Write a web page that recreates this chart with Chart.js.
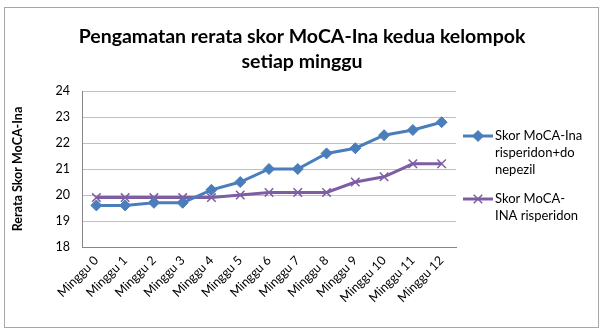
<!DOCTYPE html>
<html>
<head>
<meta charset="utf-8">
<script src="https://cdn.jsdelivr.net/npm/chart.js@4.4.0/dist/chart.umd.min.js"></script>
<style>
  html, body { margin: 0; padding: 0; background: #fff; }
  #wrap { width: 604px; height: 330px; }
</style>
</head>
<body>
<div id="wrap"><canvas id="moca" width="604" height="330"></canvas></div>
<script>
const weeks = ['Minggu 0', 'Minggu 1', 'Minggu 2', 'Minggu 3', 'Minggu 4', 'Minggu 5', 'Minggu 6',
  'Minggu 7', 'Minggu 8', 'Minggu 9', 'Minggu 10', 'Minggu 11', 'Minggu 12'];
const risperidonDonepezil = [19.6, 19.6, 19.7, 19.7, 20.2, 20.5, 21.0, 21.0, 21.6, 21.8, 22.3, 22.5, 22.8];
const risperidonOnly = [19.9, 19.9, 19.9, 19.9, 19.9, 20.0, 20.1, 20.1, 20.1, 20.5, 20.7, 21.2, 21.2];
const legendLines = [['Skor MoCA-Ina', 'risperidon+do', 'nepezil'], ['Skor MoCA-', 'INA risperidon']];
const titleLines = ['Pengamatan rerata skor MoCA-Ina kedua kelompok', 'setiap minggu'];

const FONT = 'Lato, "Open Sans", sans-serif';

// frame, title and the wrapped legend drawn by hand
const decor = {
  id: 'decor',
  beforeDraw(chart) {
    const c = chart.ctx;
    c.save();
    c.fillStyle = '#fff';
    c.fillRect(0, 0, chart.width, chart.height);
    c.strokeStyle = '#a6a6a6';
    c.lineWidth = 1;
    c.strokeRect(4.5, 7.5, 594, 320);
    c.restore();
  },
  afterDraw(chart) {
    const c = chart.ctx;
    c.save();
    c.fillStyle = '#000';
    c.font = 'bold 19.5px ' + FONT;
    c.textAlign = 'center';
    c.textBaseline = 'middle';
    titleLines.forEach((t, i) => c.fillText(t, 302, 37 + i * 25));

    c.font = '13px ' + FONT;
    c.textAlign = 'left';
    const tops = [136, 199];
    chart.data.datasets.forEach((ds, i) => {
      const y = tops[i];
      c.strokeStyle = ds.borderColor;
      c.lineWidth = 3;
      c.beginPath();
      c.moveTo(463, y);
      c.lineTo(493, y);
      c.stroke();
      c.fillStyle = ds.pointBackgroundColor;
      c.strokeStyle = ds.pointBorderColor;
      c.lineWidth = ds.pointBorderWidth;
      Chart.helpers.drawPoint(c, { pointStyle: ds.pointStyle, radius: ds.pointRadius, borderWidth: ds.pointBorderWidth }, 478, y);
      c.fillStyle = '#000';
      legendLines[i].forEach((t, j) => c.fillText(t, 495, y + j * 17));
    });
    c.restore();
  }
};

new Chart(document.getElementById('moca'), {
  type: 'line',
  data: {
    labels: weeks,
    datasets: [
      {
        label: legendLines[0].join(''),
        data: risperidonDonepezil,
        borderColor: '#4a7ebb',
        borderWidth: 3,
        pointStyle: 'rectRot',
        pointRadius: 5.5,
        pointBackgroundColor: '#4a7ebb',
        pointBorderColor: '#4a7ebb',
        pointBorderWidth: 1
      },
      {
        label: legendLines[1].join(' '),
        data: risperidonOnly,
        borderColor: '#7e5ea3',
        borderWidth: 3,
        pointStyle: 'crossRot',
        pointRadius: 6,
        pointBackgroundColor: '#7e5ea3',
        pointBorderColor: '#7e5ea3',
        pointBorderWidth: 1.5
      }
    ]
  },
  options: {
    responsive: false,
    animation: false,
    layout: { padding: { left: 0, right: 148, top: 91, bottom: 0 } },
    plugins: {
      legend: { display: false },
      title: { display: false },
      tooltip: { enabled: false }
    },
    scales: {
      x: {
        offset: true,
        grid: { display: false, drawTicks: false },
        border: { color: '#868686' },
        ticks: {
          autoSkip: false,
          minRotation: 45,
          maxRotation: 45,
          padding: 6,
          color: '#000',
          font: { family: FONT, size: 12.5 }
        },
        afterFit(scale) { scale.height = 83; }
      },
      y: {
        min: 18,
        max: 24,
        ticks: {
          stepSize: 1,
          padding: 12,
          color: '#000',
          font: { family: FONT, size: 12.5 }
        },
        grid: { color: '#bfbfbf', drawTicks: false },
        border: { color: '#868686' },
        title: {
          display: true,
          text: 'Rerata Skor MoCA-Ina',
          color: '#000',
          font: { family: FONT, size: 12.5, weight: 'bold' },
          padding: { top: 10, bottom: 10 }
        },
        afterFit(scale) { scale.width = 82; }
      }
    }
  },
  plugins: [decor]
});
</script>
</body>
</html>
